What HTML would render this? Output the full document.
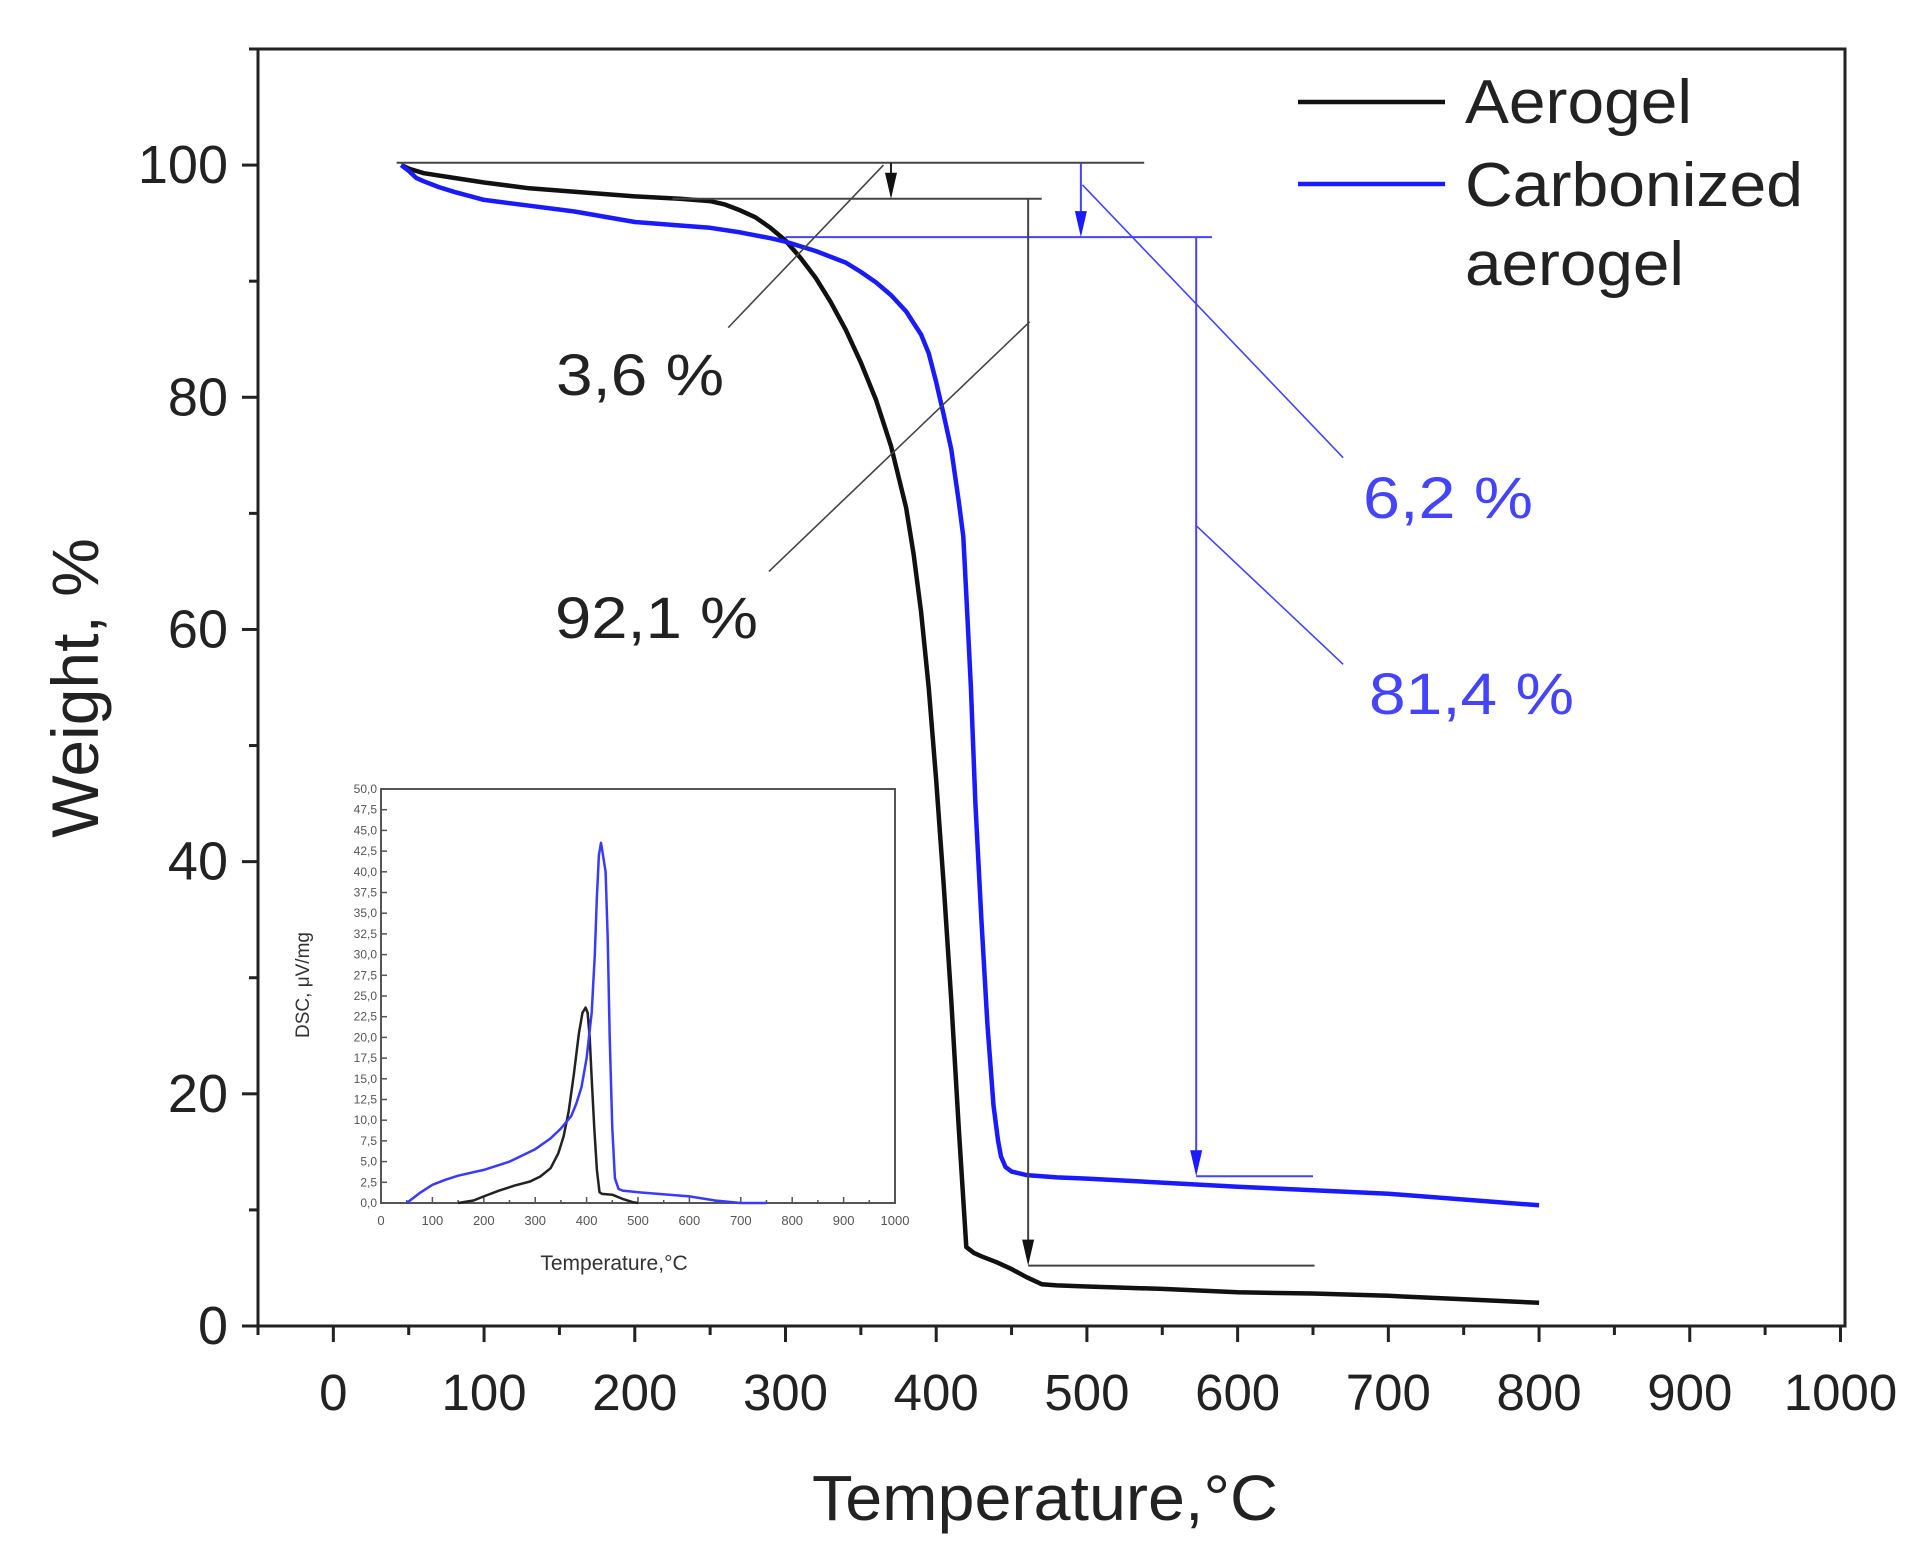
<!DOCTYPE html>
<html><head><meta charset="utf-8"><style>
html,body{margin:0;padding:0;background:#fff;}
svg{display:block;font-family:"Liberation Sans",Arial,sans-serif;}
</style></head><body>
<svg id="chart" width="1925" height="1563" viewBox="0 0 1925 1563" xmlns="http://www.w3.org/2000/svg">
<g id="main"></g>
<g id="inset"></g>
</svg>
<script>
// ---- Main chart data ----
const xTicks = [0,100,200,300,400,500,600,700,800,900,1000];
const yTicks = [0,20,40,60,80,100];
const aerogelT = [45,50,60,80,100,130,160,200,230,250,260,270,280,290,300,310,320,330,340,350,360,370,380,385,390,395,400,405,410,415,420,425,430,440,450,460,470,480,500,550,600,650,700,750,800];
const aerogelW = [100,99.7,99.3,98.9,98.5,98.0,97.7,97.3,97.1,96.9,96.6,96.1,95.5,94.6,93.5,92.0,90.3,88.2,85.8,83.0,79.8,75.8,70.5,66.5,61.5,55,47,38,28,17,6.8,6.3,6.0,5.5,4.9,4.2,3.6,3.5,3.4,3.2,2.9,2.8,2.6,2.3,2.0];
const carbT = [45,50,55,60,70,80,100,130,160,200,230,250,270,290,300,320,340,350,360,370,380,390,395,400,405,410,415,418,420,423,426,430,434,438,441,443,446,450,460,480,500,600,700,800];
const carbW = [100,99.5,98.9,98.6,98.1,97.7,97.0,96.5,96.0,95.1,94.8,94.6,94.2,93.7,93.4,92.6,91.6,90.8,89.9,88.8,87.4,85.4,83.8,81.3,78.5,75.5,71,68,63,55,45,35,26,19,16,14.6,13.7,13.3,13.0,12.8,12.7,12,11.4,10.4];
// ---- Inset data ----
const dscXTicks = [0,100,200,300,400,500,600,700,800,900,1000];
const dscYTicks = ["0,0","2,5","5,0","7,5","10,0","12,5","15,0","17,5","20,0","22,5","25,0","27,5","30,0","32,5","35,0","37,5","40,0","42,5","45,0","47,5","50,0"];
const dscAeroT = [150,180,200,230,260,290,310,330,345,355,365,375,385,392,398,402,406,410,415,420,425,430,450,470,490,500];
const dscAeroV = [0,0.3,0.8,1.5,2.1,2.6,3.2,4.2,6,8,11,15.5,20.5,23,23.6,23,20,15,9,4,1.3,1.1,1.0,0.5,0.1,0];
const dscCarbT = [50,75,100,125,150,200,250,300,330,350,370,380,390,400,410,416,420,424,428,432,437,441,445,450,455,462,470,500,600,650,700,750];
const dscCarbV = [0,1.2,2.2,2.8,3.3,4,5,6.5,7.8,9,10.5,12,14,17.5,23,30,37,42,43.5,42,40,32,20,9,3,1.7,1.5,1.3,0.8,0.3,0,0];

const NS="http://www.w3.org/2000/svg";
function mk(parent,tag,attrs,text){const e=document.createElementNS(NS,tag);for(const k in attrs)e.setAttribute(k,attrs[k]);if(text!==undefined)e.textContent=text;parent.appendChild(e);return e;}

// Main axes
const X0=258,X1=1845,Y0=49,Y1=1326;
const xMin=-50,xMax=1003,yMin=0,yMax=110;
const sx=v=>X0+(v-xMin)/(xMax-xMin)*(X1-X0);
const sy=v=>Y1-(v-yMin)/(yMax-yMin)*(Y1-Y0);
const main=document.getElementById('main');
const BLUE="#1a1aff", ABLUE="#4444ff";

let fr=mk(main,'rect',{x:X0,y:Y0,width:X1-X0,height:Y1-Y0,fill:'none',stroke:'#222','stroke-width':3});


for(let v=-50;v<=1000;v+=50){
  const major=v%100===0;
  let t=mk(main,'line',{x1:sx(v),x2:sx(v),y1:Y1,y2:Y1+(major?16:9),stroke:'#222','stroke-width':3});
  
}
xTicks.forEach(v=>{
  let t=mk(main,'text',{x:sx(v),y:1410,'font-size':51,'text-anchor':'middle',fill:'#222'},String(v));
  
});
for(let v=0;v<=110;v+=10){
  const major=v%20===0;
  let t=mk(main,'line',{x1:X0,x2:X0-(major?16:9),y1:sy(v),y2:sy(v),stroke:'#222','stroke-width':3});
  
}
yTicks.forEach(v=>{
  let t=mk(main,'text',{x:228,y:sy(v)+18,'font-size':54,'text-anchor':'end',fill:'#222'},String(v));
  
});
let xt=mk(main,'text',{x:1045,y:1520,'font-size':64,'text-anchor':'middle',fill:'#222',textLength:466,lengthAdjust:'spacingAndGlyphs'},'Temperature,°C');

let yt=mk(main,'text',{x:0,y:0,'font-size':66,'text-anchor':'middle',fill:'#222',transform:'translate(98,688) rotate(-90)'},'Weight, %');


function path(xs,ys,fx,fy){return xs.map((x,i)=>(i?'L':'M')+fx(x).toFixed(1)+','+fy(ys[i]).toFixed(1)).join(' ');}
let pa=mk(main,'path',{d:path(aerogelT,aerogelW,sx,sy),fill:'none',stroke:'#111','stroke-width':4.5,'stroke-linejoin':'round'});

let pc=mk(main,'path',{d:path(carbT,carbW,sx,sy),fill:'none',stroke:BLUE,'stroke-width':4.5,'stroke-linejoin':'round'});


// Annotations
function ln(x1,y1,x2,y2,c,w,name){let l=mk(main,'line',{x1:sx(x1),y1:sy(y1),x2:sx(x2),y2:sy(y2),stroke:c,'stroke-width':w});
  return l;}
function arrowHead(x,y,c,name){const px=sx(x),py=sy(y);let p=mk(main,'polygon',{points:`${px-6},${py-26} ${px+6},${py-26} ${px},${py}`,fill:c});
  }
ln(42,100.2,538,100.2,'#444',2,'ref-line-100');
ln(225,97.1,470,97.1,'#444',2,'ref-line-97');
ln(300,93.8,583,93.8,ABLUE,2,'ref-line-93');
ln(370,100.2,370,97.4,'#222',2,'arrow-3-6');arrowHead(370,97.1,'#111','arrow-head-3-6');
ln(496,100.2,496,94.2,ABLUE,2,'arrow-6-2');arrowHead(496,93.8,BLUE,'arrow-head-6-2');
ln(461,97.1,461,5.6,'#444',2,'arrow-92-1');arrowHead(461,5.2,'#111','arrow-head-92-1');
ln(461,5.2,651,5.2,'#444',2,'ref-line-5');
ln(572.5,93.8,572.5,13.3,ABLUE,2,'arrow-81-4');arrowHead(572.5,12.9,BLUE,'arrow-head-81-4');
ln(572.5,12.9,650,12.9,ABLUE,2,'ref-line-13');
ln(262,86,365,100,'#444',1.6,'leader-3-6');
ln(289,65,462,86.5,'#444',1.6,'leader-92-1');
ln(670,74.8,497,98.3,ABLUE,1.6,'leader-6-2');
ln(670,57,572,69,ABLUE,1.6,'leader-81-4');
function lbl(x,y,s,c,name,len){let t=mk(main,'text',{x:x,y:y,'font-size':58,fill:c,textLength:len,lengthAdjust:'spacingAndGlyphs'},s);
  }
lbl(556,395,'3,6 %','#222','label-3-6',168);
lbl(555,638,'92,1 %','#222','label-92-1',203);
lbl(1363,518,'6,2 %',ABLUE,'label-6-2',170);
lbl(1369,714,'81,4 %',ABLUE,'label-81-4',205);

// Legend
let lg=mk(main,'g',{});
let l1=mk(lg,'line',{x1:1298,x2:1445,y1:102,y2:102,stroke:'#111','stroke-width':4.5});

let t1=mk(lg,'text',{x:1465,y:123,'font-size':62,fill:'#222',textLength:227,lengthAdjust:'spacingAndGlyphs'},'Aerogel');

let l2=mk(lg,'line',{x1:1298,x2:1445,y1:184,y2:184,stroke:BLUE,'stroke-width':4.5});

let t2=mk(lg,'text',{x:1465,y:206,'font-size':62,fill:'#222',textLength:338,lengthAdjust:'spacingAndGlyphs'},'Carbonized');

let t3=mk(lg,'text',{x:1465,y:285,'font-size':62,fill:'#222',textLength:219,lengthAdjust:'spacingAndGlyphs'},'aerogel');


// ---- Inset ----
const inset=document.getElementById('inset');
const IX0=381,IX1=895,IY0=789,IY1=1203;
const ix=v=>IX0+v/1000*(IX1-IX0);
const iy=v=>IY1-v/50*(IY1-IY0);
let bg=mk(inset,'rect',{x:IX0,y:IY0,width:IX1-IX0,height:IY1-IY0,fill:'#fff',stroke:'#555','stroke-width':2});

dscXTicks.forEach(v=>{
  let t=mk(inset,'line',{x1:ix(v),x2:ix(v),y1:IY1,y2:IY1-6,stroke:'#555','stroke-width':1.5});
  
  if(v<1000){let m=mk(inset,'line',{x1:ix(v+50),x2:ix(v+50),y1:IY1,y2:IY1-3,stroke:'#555','stroke-width':1.5});
  }
  let l=mk(inset,'text',{x:ix(v),y:IY1+22,'font-size':13,'text-anchor':'middle',fill:'#555'},String(v));
  
});
dscYTicks.forEach((s,i)=>{
  const v=i*2.5;
  let t=mk(inset,'line',{x1:IX0,x2:IX0+6,y1:iy(v),y2:iy(v),stroke:'#555','stroke-width':1.5});
  
  let l=mk(inset,'text',{x:IX0-4,y:iy(v)+4,'font-size':12,'text-anchor':'end',fill:'#555'},s);
  
});
let ixt=mk(inset,'text',{x:614,y:1270,'font-size':21,'text-anchor':'middle',fill:'#333'},'Temperature,°C');

let iyt=mk(inset,'text',{x:0,y:0,'font-size':19,'text-anchor':'middle',fill:'#333',transform:'translate(309,985) rotate(-90)'},'DSC, μV/mg');

let ia=mk(inset,'path',{d:path(dscAeroT,dscAeroV,ix,iy),fill:'none',stroke:'#222','stroke-width':2.5,'stroke-linejoin':'round'});

let ic=mk(inset,'path',{d:path(dscCarbT,dscCarbV,ix,iy),fill:'none',stroke:'#3a3aff','stroke-width':2.5,'stroke-linejoin':'round'});

</script>
</body></html>
